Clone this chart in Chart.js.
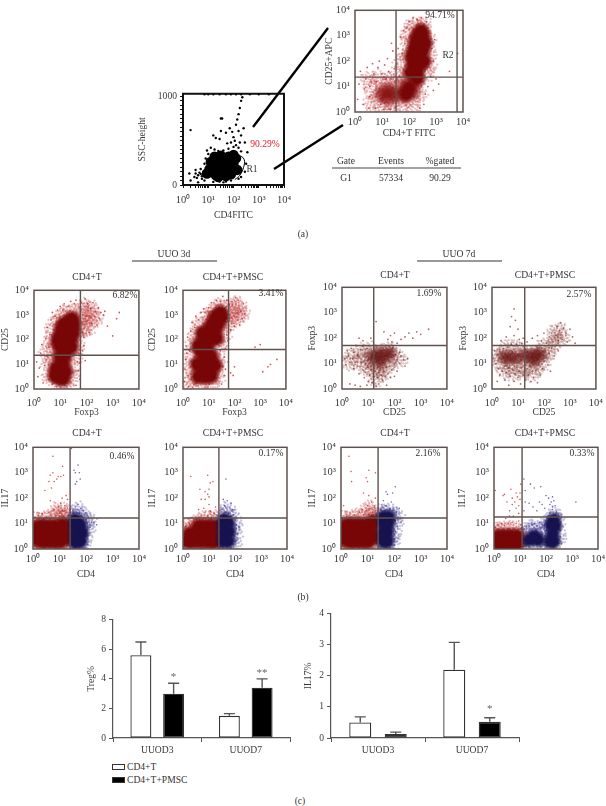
<!DOCTYPE html>
<html>
<head>
<meta charset="utf-8">
<title>Flow cytometry and Treg / IL17 percentages</title>
<script src="https://cdn.jsdelivr.net/npm/chart.js@4"></script>
<style>
  html, body { margin: 0; background: #fff; overflow: hidden; }
  #page { position: relative; width: 606px; height: 806px; font-family: "Liberation Serif", serif; color: #333; }
  #page canvas { position: absolute; }
  .txt { position: absolute; transform: translate(-50%, -50%); white-space: nowrap; font-size: 9.6px; line-height: 1; }
  .swatch { position: absolute; width: 11px; height: 4px; border: 1px solid #333; }
  svg { position: absolute; left: 0; top: 0; }
</style>
</head>
<body>
<div id="page">
<svg width="606" height="806" id="rules"></svg>
</div>
<script>
// flow panels: every point is [log10 x, log10 y]
const decadeLabels = ["10⁰", "10¹", "10²", "10³", "10⁴"];
const decadeTicks = [1, 10, 100, 1000, 10000];

// (a) SSC gate panel: [log10 x, SSC value]
const sscCore = [[0.95,130],[1.2,190],[1.4,240],[1.6,290],[1.8,320],[1.5,140],[1.8,170],[2.0,240],[1.3,110],[1.7,100],[1.1,260],[1.5,330],[2.0,340],[1.9,120],[1.65,200],[1.25,320],[2.15,170],[1.05,180],[1.4,90],[1.35,170],[1.75,250],[2.1,300]];
const sscDots = [[0.25,130],[0.3,50],[0.45,90],[0.5,170],[0.6,30],[0.7,180],[0.5,130],[0.6,110],[0.65,140],[0.75,100],[0.8,150],[0.7,125],[0.85,240],[0.9,300],[1.0,350],[0.95,390],[1.1,420],[1.25,400],[1.4,385],[1.6,390],[1.8,410],[2.0,430],[2.2,420],[2.3,380],[0.3,620],[1.5,750],[1.55,750],[1.2,560],[1.3,530],[1.45,520],[1.5,610],[1.7,590],[1.85,640],[1.95,600],[2.0,540],[2.1,680],[2.15,740],[2.2,800],[2.25,870],[2.3,950],[2.35,990],[2.2,610],[2.05,500],[2.3,560],[2.1,450],[1.9,480],[2.25,480],[2.4,640],[2.45,480],[1.75,470],[2.55,370],[2.5,240],[2.45,150],[1.6,30],[1.2,35],[1.7,40],[1.9,50],[1.45,40],[0.85,50],[2.2,70],[2.3,90],[0.55,80],[0.75,70],[0.85,1025],[1.0,1025],[1.2,1025],[1.45,1025],[1.7,1025],[1.9,1025],[2.1,1025],[2.3,1025],[2.65,1025],[3.0,1025],[3.4,1025]];
const sscGate = [[1.9,345],[2.2,335],[2.42,290],[2.4,200],[2.25,110],[2.05,60]];

// (a) gated panel, 94.71%
const gatedCore = [[2.3,1.6],[2.4,1.9],[2.3,2.2],[2.5,2.4],[2.2,2.5],[2.4,2.7],[2.5,3.0],[2.35,3.0],[2.15,1.9],[2.55,2.0],[2.1,2.2],[2.45,3.2],[2.05,1.55],[2.6,2.7],[2.35,2.45],[2.25,2.8],[2.3,1.3],[2.0,0.95],[1.9,0.7]];
const gatedLow = [[1.0,0.7],[1.2,0.55],[1.4,0.75],[1.2,0.85],[1.65,0.65],[2.15,0.8],[1.85,1.05]];
const gatedMid = [[1.1,0.7],[1.3,0.6],[1.0,0.85],[1.5,0.7],[1.7,0.55],[2.2,0.9],[2.1,0.5],[1.6,1.0],[0.8,0.6],[1.2,0.4],[1.4,0.95],[2.3,1.2],[1.85,1.3],[2.65,1.5],[2.75,2.3],[2.72,2.9],[2.25,3.4],[2.55,3.45],[1.95,2.7],[1.9,2.2],[2.75,1.8],[1.05,1.1],[0.6,0.9],[2.4,0.7],[1.75,0.2],[2.15,0.2],[0.6,0.35],[0.85,1.35],[1.3,1.25],[1.55,1.5],[0.5,1.3],[1.7,1.95],[1.95,3.05],[2.1,3.35],[1.35,0.2],[1.0,0.2]];
const gatedDots = [[0.1,0.5],[0.15,1.1],[0.2,1.6],[0.3,0.3],[0.35,0.9],[0.4,1.3],[0.45,1.75],[0.5,0.15],[0.55,0.6],[0.6,1.2],[0.65,1.9],[0.7,1.5],[0.75,0.15],[0.8,1.2],[0.85,1.75],[0.9,2.0],[1.0,1.5],[1.05,0.1],[1.1,1.85],[1.15,1.3],[1.2,2.1],[1.25,1.6],[1.3,0.1],[1.35,1.3],[1.4,2.4],[1.45,1.7],[1.5,0.2],[1.55,1.9],[1.6,2.5],[1.65,1.4],[1.7,2.95],[1.75,2.3],[1.8,3.2],[1.85,2.7],[1.9,3.3],[2.0,3.55],[2.05,3.0],[2.15,3.7],[2.3,3.65],[2.45,3.7],[2.65,3.55],[2.8,3.1],[2.85,2.5],[2.9,2.0],[2.8,1.4],[2.7,1.0],[2.6,0.7],[2.55,0.3],[2.4,0.15],[2.9,0.85],[3.0,1.3],[3.1,1.1],[3.5,1.6],[3.8,2.3],[2.95,2.85],[1.35,2.7],[0.95,0.3],[0.55,1.0]];

// (b) UUO 3d CD25 / Foxp3, 6.82%
const p1Core = [[1.2,1.75],[1.25,2.1],[1.3,2.4],[1.35,2.7],[1.45,2.85],[1.0,2.15],[1.05,2.45],[1.5,2.3],[1.5,2.6],[1.0,1.7],[1.0,0.8],[0.95,0.5],[1.1,1.05],[1.2,0.7],[0.85,0.85],[1.2,1.4],[1.0,1.3],[1.42,1.7],[0.9,1.95],[1.15,2.65],[1.4,2.05],[0.8,0.55],[1.1,0.4]];
const p1Mid = [[0.75,1.6],[0.65,2.0],[0.7,2.4],[0.85,2.7],[1.05,2.95],[1.25,3.1],[1.5,3.15],[1.72,2.85],[1.72,2.3],[1.65,1.7],[1.55,1.3],[1.45,0.9],[1.45,0.5],[1.25,0.25],[0.95,0.2],[0.6,0.5],[0.55,1.0],[0.7,1.25],[1.9,2.85],[1.95,3.1],[2.1,2.7],[2.2,3.05],[2.05,2.45],[1.9,3.35],[2.35,2.85],[1.9,2.45],[2.15,3.3],[0.5,1.5]];
const p1Dots = [[0.1,1.1],[0.15,0.5],[0.2,0.85],[0.25,1.45],[0.3,1.8],[0.35,0.25],[0.4,0.95],[0.45,2.05],[0.5,1.35],[0.5,2.5],[0.55,0.4],[0.55,1.7],[0.6,2.2],[0.65,2.8],[0.7,0.2],[0.7,3.1],[0.8,2.95],[0.85,0.1],[0.9,3.2],[1.0,3.35],[1.1,3.2],[1.15,3.45],[1.3,3.35],[1.4,3.55],[1.55,3.45],[1.6,3.6],[1.75,3.3],[1.8,3.5],[1.85,2.3],[1.9,2.1],[1.95,3.65],[2.0,2.95],[2.05,3.45],[2.1,2.3],[2.15,3.25],[2.2,2.65],[2.25,3.5],[2.3,2.95],[2.35,3.15],[2.4,2.6],[2.45,3.3],[2.5,2.85],[2.55,3.1],[2.65,3.0],[2.7,3.15],[2.8,2.55],[3.0,2.15],[3.15,2.85],[3.25,3.1],[1.65,1.1],[1.7,0.75],[1.75,0.4],[1.7,1.45],[1.85,1.55],[1.9,1.75],[1.95,1.15],[1.75,1.05],[1.6,0.15]];

// UUO 3d, 3.41%
const p2Core = [[0.9,0.5],[0.75,0.8],[1.0,0.9],[0.85,1.2],[1.1,1.3],[0.7,1.5],[0.95,1.6],[0.8,1.9],[1.05,2.0],[0.95,2.3],[1.2,2.3],[1.1,2.6],[1.35,2.6],[1.25,2.9],[1.5,2.9],[1.45,3.1],[0.6,0.5],[1.1,0.55],[0.55,1.0],[1.25,0.95],[1.3,2.05],[0.75,2.25],[0.6,1.75]];
const p2Mid = [[0.35,0.4],[0.3,0.9],[0.35,1.35],[0.4,1.8],[0.5,2.25],[0.65,2.6],[0.95,2.9],[1.15,3.15],[1.4,3.35],[1.65,3.3],[1.7,2.6],[1.6,2.2],[1.4,1.7],[1.35,1.2],[1.35,0.5],[1.1,0.2],[0.7,0.15],[0.3,0.2],[1.85,3.0],[1.95,3.2],[2.1,2.9],[2.2,3.3],[2.05,3.45],[1.9,2.75],[2.3,3.05],[1.05,2.85]];
const p2Dots = [[0.05,0.3],[0.08,0.8],[0.1,1.2],[0.12,1.75],[0.18,2.1],[0.22,0.1],[0.25,1.55],[0.3,2.35],[0.35,2.7],[0.45,2.5],[0.5,2.95],[0.6,2.8],[0.7,3.1],[0.8,3.25],[1.0,3.3],[1.1,3.5],[1.3,3.6],[1.45,3.55],[1.55,3.75],[1.7,3.6],[1.8,3.4],[1.9,3.55],[2.05,3.7],[2.15,3.6],[2.25,3.15],[2.3,2.85],[2.35,3.45],[2.4,3.05],[2.2,2.6],[2.0,2.55],[1.85,2.4],[1.75,1.95],[1.7,2.2],[1.65,1.65],[1.6,1.3],[1.55,0.9],[1.6,0.55],[1.5,0.2],[1.65,0.8],[1.75,1.1],[1.85,0.65],[1.95,0.55],[2.0,0.9],[2.8,1.7],[3.0,1.8],[3.1,0.7],[3.4,1.0],[3.65,1.2],[3.3,0.9],[1.45,1.55],[0.2,0.55],[0.15,1.45]];

// UUO 7d Foxp3 / CD25, 1.69%
const p3Core = [[1.4,1.3],[1.6,1.4],[1.25,1.2],[1.55,1.15],[1.75,1.35],[1.1,1.3],[1.35,1.45],[1.85,1.45],[1.45,1.05]];
const p3Mid = [[0.4,1.3],[0.6,1.05],[0.7,1.5],[0.85,1.25],[0.95,0.85],[1.05,1.55],[1.15,0.7],[1.25,1.0],[1.4,0.75],[1.55,0.6],[1.7,0.85],[1.85,1.05],[2.0,1.3],[2.2,1.15],[0.25,1.05],[1.3,0.4],[1.75,1.55],[1.0,1.1]];
const p3Dots = [[0.1,1.2],[0.15,0.95],[0.2,1.5],[0.25,1.3],[0.3,1.05],[0.35,1.6],[0.4,1.2],[0.45,0.8],[0.45,1.45],[0.5,1.05],[0.55,1.7],[0.6,1.3],[0.6,0.9],[0.65,0.6],[0.7,1.55],[0.75,1.05],[0.8,0.75],[0.8,1.7],[0.85,0.45],[0.9,1.0],[0.9,0.65],[0.95,1.6],[1.0,0.85],[1.0,0.3],[1.05,1.7],[1.05,0.55],[1.1,0.75],[1.15,0.25],[1.2,0.9],[1.2,0.5],[1.25,0.7],[1.3,0.1],[1.3,1.7],[1.35,0.85],[1.35,0.45],[1.4,0.65],[1.4,0.2],[1.45,0.8],[1.5,0.55],[1.5,1.65],[1.55,0.85],[1.55,0.35],[1.6,0.7],[1.6,1.7],[1.65,0.5],[1.7,0.85],[1.7,0.15],[1.75,0.6],[1.8,0.9],[1.8,1.7],[1.85,0.45],[1.9,0.75],[1.95,1.65],[2.0,0.95],[2.0,0.5],[2.05,1.35],[2.1,1.15],[2.1,0.7],[2.2,1.45],[2.2,1.0],[2.25,1.3],[2.35,1.15],[2.4,0.9],[2.5,1.2],[0.3,0.2],[0.5,0.15],[0.7,0.1],[0.95,0.15],[0.65,2.0],[0.8,1.9],[1.1,2.0],[1.3,2.65],[1.75,1.95],[1.85,2.1],[2.0,2.2],[2.1,1.8],[2.25,1.95],[2.4,2.05],[2.55,2.2],[2.7,2.0],[2.85,2.25],[3.0,2.15],[3.3,2.35],[1.6,2.25],[1.9,1.85]];

// UUO 7d, 2.57%
const p4Core = [[0.55,1.25],[0.8,1.3],[1.0,1.2],[0.7,1.15],[0.4,1.3],[1.35,1.3],[1.55,1.4],[1.7,1.3],[1.5,1.15],[1.8,1.45],[1.2,1.35],[1.9,1.3],[1.65,1.1]];
const p4Mid = [[0.2,1.3],[0.35,0.95],[0.5,0.7],[0.7,0.9],[0.85,0.6],[1.0,0.85],[1.1,1.5],[1.2,0.7],[1.4,0.85],[1.55,0.6],[1.75,0.85],[2.0,1.05],[2.15,1.4],[2.3,1.7],[2.45,1.9],[2.4,2.2],[2.6,2.3],[2.7,2.0],[0.55,1.6],[0.8,1.65],[2.0,1.7]];
const p4Dots = [[0.05,1.2],[0.1,1.5],[0.15,1.0],[0.2,1.35],[0.25,0.8],[0.3,1.55],[0.3,0.55],[0.35,1.05],[0.4,0.7],[0.45,1.6],[0.5,0.9],[0.5,0.35],[0.55,0.65],[0.6,1.65],[0.65,0.85],[0.65,0.15],[0.7,0.5],[0.75,1.75],[0.8,0.75],[0.85,0.3],[0.9,0.6],[0.95,1.75],[0.95,0.85],[1.0,0.45],[1.05,0.7],[1.1,0.2],[1.15,0.85],[1.2,0.55],[1.25,0.95],[1.3,0.35],[1.35,0.8],[1.4,0.55],[1.45,0.9],[1.5,0.3],[1.55,0.7],[1.6,0.45],[1.7,0.75],[1.75,0.25],[1.8,0.95],[1.85,0.55],[1.95,0.8],[2.0,1.1],[2.05,1.5],[2.1,1.25],[2.2,1.4],[2.3,1.6],[2.4,1.3],[2.45,1.7],[2.55,1.5],[2.1,1.8],[2.2,2.05],[2.3,2.2],[2.35,1.85],[2.45,2.1],[2.5,2.45],[2.55,1.9],[2.6,2.3],[2.65,2.6],[2.7,1.95],[2.75,2.4],[2.85,2.2],[2.9,1.85],[3.0,2.35],[3.1,2.05],[3.2,1.8],[2.0,2.2],[1.9,1.9],[1.75,2.1],[1.55,2.0],[1.35,1.85],[1.2,2.0],[1.05,1.95],[0.85,2.1],[0.7,2.45],[0.75,2.85],[0.85,3.15],[0.9,2.7],[1.0,2.35],[1.15,1.8],[0.55,2.05],[0.35,1.9],[0.2,0.3],[2.25,0.7],[2.15,0.95]];

// UUO 3d IL17 / CD4, 0.46%
const p5Red = [[0.05,0.4],[0.05,0.8],[0.3,0.3],[0.55,0.3],[0.8,0.3],[1.05,0.3],[0.25,0.65],[0.5,0.65],[0.8,0.65],[1.1,0.65],[0.25,0.9],[0.5,0.9],[0.8,0.9],[1.1,0.95],[1.27,0.45],[1.27,0.85]];
const p5RedMid = [[0.15,1.15],[0.4,1.2],[0.65,1.25],[0.9,1.3],[1.1,1.35],[1.3,1.25],[0.2,0.08],[0.5,0.06],[0.8,0.05],[1.1,0.08],[1.3,0.15],[1.2,1.5],[0.95,1.55]];
const p5RedDots = [[0.05,1.25],[0.2,1.3],[0.35,1.4],[0.5,1.25],[0.6,1.45],[0.7,1.3],[0.8,1.55],[0.85,1.3],[0.95,1.65],[1.0,1.4],[1.05,1.8],[1.1,1.5],[1.15,1.3],[1.2,1.7],[1.25,1.45],[1.3,1.6],[1.35,1.35],[1.3,1.95],[0.65,1.9],[1.1,2.0],[0.45,2.3],[0.7,2.4],[0.75,3.65],[1.12,3.25],[0.6,2.65],[0.65,2.9],[0.8,2.65],[0.9,2.75],[1.05,2.85],[1.15,2.9],[0.75,3.0],[0.95,2.85],[1.25,2.1]];
const p5Blue = [[1.6,0.25],[1.8,0.3],[1.6,0.6],[1.75,0.6],[1.6,0.95],[1.78,0.95],[1.6,1.15],[1.85,0.65]];
const p5BlueMid = [[1.55,1.3],[1.8,1.3],[2.0,1.1],[2.05,0.75],[1.95,0.35],[1.65,0.08],[1.7,1.55],[2.1,1.15]];
const p5BlueDots = [[1.45,1.3],[1.5,1.5],[1.55,1.35],[1.6,1.65],[1.65,1.45],[1.7,1.75],[1.75,1.4],[1.8,1.6],[1.85,1.3],[1.9,1.5],[1.95,1.35],[2.0,1.15],[2.0,0.7],[2.05,1.0],[2.1,1.25],[2.15,0.85],[2.2,1.05],[2.3,1.05],[2.4,0.95],[1.98,0.3],[1.6,2.55],[1.65,2.65],[1.55,3.1],[1.7,3.3],[1.75,3.0],[1.6,3.0],[1.45,3.95],[1.78,2.75]];

// UUO 3d, 0.17%
const p6Red = [[0.4,0.3],[0.7,0.3],[1.0,0.3],[0.25,0.6],[0.55,0.6],[0.85,0.6],[1.15,0.55],[0.6,0.9],[0.9,0.9],[1.2,0.9],[1.25,0.3],[0.15,0.3]];
const p6RedMid = [[0.1,0.8],[0.3,0.95],[0.5,1.05],[0.75,1.15],[1.0,1.2],[1.25,1.25],[1.25,0.1],[0.9,0.08],[0.5,0.08]];
const p6RedDots = [[0.1,0.9],[0.15,0.1],[0.25,1.0],[0.3,0.2],[0.4,1.05],[0.5,1.15],[0.6,1.2],[0.7,1.3],[0.8,1.25],[0.85,1.45],[0.95,1.3],[1.05,1.5],[1.1,1.25],[1.2,1.4],[1.25,1.65],[1.35,1.3],[1.3,0.15],[0.55,0.1],[0.9,0.08],[0.6,1.55],[0.8,1.6],[1.0,1.75],[0.7,1.95],[0.85,1.95],[0.95,2.15],[1.0,2.05],[0.85,2.25],[1.0,2.35],[0.65,2.35],[0.3,2.85],[0.95,2.9],[1.05,2.6],[1.15,2.65]];
const p6Blue = [[1.55,0.3],[1.75,0.3],[1.55,0.65],[1.78,0.65],[1.55,1.0],[1.75,1.0],[1.6,1.15]];
const p6BlueMid = [[1.6,1.35],[1.85,1.3],[2.0,1.0],[2.0,0.6],[1.95,0.2],[1.7,1.55],[1.55,0.08]];
const p6BlueDots = [[1.45,1.3],[1.5,1.55],[1.55,1.35],[1.6,1.7],[1.65,1.45],[1.7,1.9],[1.75,1.4],[1.8,1.65],[1.85,1.3],[1.9,1.55],[1.95,1.35],[2.0,1.2],[2.05,0.95],[2.1,0.6],[2.15,0.85],[2.0,0.3],[1.65,2.75],[1.55,1.95],[1.85,1.8]];

// UUO 7d, 2.16%
const p7Red = [[0.05,0.4],[0.05,0.85],[0.3,0.3],[0.55,0.3],[0.8,0.3],[1.05,0.3],[0.25,0.65],[0.5,0.65],[0.8,0.65],[1.1,0.65],[0.25,0.95],[0.5,0.95],[0.8,0.95],[1.1,1.0],[1.27,0.5],[1.27,1.05]];
const p7RedMid = [[0.15,1.2],[0.4,1.25],[0.65,1.3],[0.9,1.35],[1.15,1.4],[1.3,1.35],[0.25,0.08],[0.55,0.06],[0.85,0.05],[1.15,0.08],[1.05,1.6]];
const p7RedDots = [[0.05,1.25],[0.2,1.3],[0.35,1.25],[0.5,1.35],[0.6,1.25],[0.7,1.45],[0.85,1.35],[0.95,1.5],[1.05,1.35],[1.1,1.6],[1.2,1.45],[1.25,1.7],[1.3,1.5],[1.35,1.35],[1.0,1.7],[0.8,1.55],[1.15,1.85],[1.05,2.1],[0.85,2.2],[1.3,2.0],[0.1,1.7],[0.3,3.65],[0.4,2.65],[0.38,3.05],[1.05,3.1],[1.3,3.0],[1.0,2.65],[0.95,2.8]];
const p7Blue = [[1.6,0.3],[1.75,0.3],[1.6,0.65],[1.75,0.65],[1.6,1.0],[1.78,1.0],[1.6,1.25],[1.8,1.25]];
const p7BlueMid = [[1.55,1.45],[1.75,1.5],[1.95,1.35],[2.05,1.0],[2.0,0.6],[1.95,0.25],[1.65,0.08],[2.1,1.3]];
const p7BlueDots = [[1.45,1.4],[1.5,1.55],[1.55,1.65],[1.65,1.5],[1.7,1.7],[1.8,1.45],[1.85,1.6],[1.9,1.3],[1.95,1.5],[2.0,1.35],[2.05,1.1],[2.1,1.45],[2.15,1.25],[2.2,1.6],[2.05,0.7],[2.0,0.4],[2.12,0.9],[1.7,2.25],[1.75,2.15],[1.95,2.2],[2.05,2.45],[1.9,1.85],[1.6,1.9],[2.0,0.15]];

// UUO 7d, 0.33%
const p8Red = [[0.15,0.22],[0.4,0.2],[0.65,0.2],[0.9,0.2],[0.15,0.5],[0.4,0.5],[0.65,0.5],[0.9,0.5]];
const p8RedMid = [[0.1,0.75],[0.35,0.8],[0.6,0.8],[0.85,0.75],[1.0,0.4]];
const p8RedDots = [[0.05,0.85],[0.15,0.95],[0.3,1.0],[0.4,0.92],[0.55,1.0],[0.7,1.05],[0.85,1.0],[0.95,1.1],[1.03,0.95],[0.45,1.2],[0.75,1.3],[0.95,1.4],[0.6,1.5],[0.85,1.6],[0.7,1.75],[0.8,1.85],[0.95,1.7],[1.0,1.95],[0.7,2.0],[0.9,2.05],[0.35,2.1],[0.5,1.85],[0.85,2.2],[0.4,2.15],[1.0,2.2],[0.05,2.3],[0.65,2.35],[1.03,2.55],[0.6,1.3]];
const p8Blue = [[1.35,0.35],[1.55,0.5],[1.7,0.35],[2.15,0.3],[2.25,0.6],[2.3,0.3],[2.2,0.95],[2.35,0.9],[2.3,1.15]];
const p8BlueMid = [[1.2,0.2],[1.2,0.6],[1.35,0.8],[1.55,0.85],[1.75,0.75],[1.9,0.4],[1.95,0.7],[2.1,0.15],[2.5,0.5],[2.45,1.1],[2.3,1.35],[2.05,1.0]];
const p8BlueDots = [[1.1,0.1],[1.12,0.5],[1.15,0.8],[1.2,0.2],[1.25,0.9],[1.35,1.0],[1.45,0.95],[1.55,1.0],[1.65,0.9],[1.75,1.05],[1.85,0.85],[1.95,0.95],[2.0,0.6],[2.05,1.1],[2.1,1.3],[2.15,1.4],[2.25,1.55],[2.4,1.45],[2.5,1.3],[2.5,0.9],[2.55,0.5],[2.6,0.2],[2.45,0.15],[1.15,1.5],[1.2,1.85],[1.2,2.3],[1.15,2.75],[1.4,2.55],[1.55,2.4],[1.8,2.45],[1.35,1.8],[1.5,1.65],[1.65,1.5],[1.75,1.85],[1.85,1.75],[1.95,1.6],[2.1,2.0],[2.15,1.75],[2.2,1.85],[2.25,2.05],[2.3,1.9],[2.35,1.7],[2.25,1.65],[3.15,1.85],[2.0,2.1]];

// (c) bars
const barCategories = ["UUOD3", "UUOD7"];
const seriesNames = ["CD4+T", "CD4+T+PMSC"];
const tregOpen = [5.6, 1.5];
const tregOpenTop = [6.5, 1.65];
const tregBlack = [3.0, 3.4];
const tregBlackTop = [3.7, 4.0];
const tregStars = ["*", "**"];
const tregStarAt = [4.1, 4.4];
const il17Open = [0.5, 2.2];
const il17OpenTop = [0.68, 3.08];
const il17Black = [0.13, 0.52];
const il17BlackTop = [0.19, 0.65];
const il17Stars = ["", "*"];
const il17StarAt = [0, 0.94];

const page = document.getElementById("page");
const FONT = "Liberation Serif";
const INK = "#3a3a3a";

// marker sprites: a soft blob for dense regions, a speckle for the cloud edge
const speckOffsets = [[0,0],[2,-1],[-2,1],[1,3],[-1,-3],[3,2],[-3,-1],[4,-2],[-4,2],[2,-4],[-2,4],[5,1],[-5,-1],[1,-5],[-1,5],[4,4],[-4,-4],[5,-3],[-5,3],[3,-6],[-3,6],[7,0],[-7,1],[0,7],[1,-7],[6,4],[-6,-4],[6,-5],[-5,6],[8,-2],[-8,2],[3,8],[-2,-8]];

function softSprite(rgb, radius, alpha) {
  const c = document.createElement("canvas");
  c.width = c.height = radius * 2;
  const g = c.getContext("2d");
  const grad = g.createRadialGradient(radius, radius, 0, radius, radius, radius);
  grad.addColorStop(0, "rgba(" + rgb + "," + alpha + ")");
  grad.addColorStop(0.45, "rgba(" + rgb + "," + alpha + ")");
  grad.addColorStop(1, "rgba(" + rgb + ",0)");
  g.fillStyle = grad;
  g.fillRect(0, 0, radius * 2, radius * 2);
  return c;
}

function speckSprite(color) {
  const c = document.createElement("canvas");
  c.width = c.height = 20;
  const g = c.getContext("2d");
  g.fillStyle = color;
  speckOffsets.forEach(o => {
    g.beginPath();
    g.arc(10 + o[0], 10 + o[1], 0.7, 0, Math.PI * 2);
    g.fill();
  });
  return c;
}

const redSoft = softSprite("120,6,6", 10, 1);
const redLow = softSprite("135,15,15", 10, 0.6);
const blueSoft = softSprite("22,18,80", 9, 1);
const brownSoft = softSprite("105,20,20", 7, 0.5);
const redSpeck = speckSprite("rgba(185,40,40,.8)");
const blueSpeck = speckSprite("rgba(60,50,140,.8)");
const brownSpeck = speckSprite("rgba(125,45,40,.75)");
const RED_DOT = "rgba(205,60,60,.85)";
const BLUE_DOT = "rgba(75,65,150,.8)";
const BROWN_DOT = "rgba(140,60,55,.75)";

function text(str, x, y, extra) {
  const d = document.createElement("div");
  d.className = "txt";
  d.textContent = str;
  d.style.left = x + "px";
  d.style.top = y + "px";
  if (extra) Object.assign(d.style, extra);
  page.appendChild(d);
}

function rule(x1, y1, x2, y2, w, color) {
  const l = document.createElementNS("http://www.w3.org/2000/svg", "line");
  l.setAttribute("x1", x1); l.setAttribute("y1", y1);
  l.setAttribute("x2", x2); l.setAttribute("y2", y2);
  l.setAttribute("stroke", color || "#000");
  l.setAttribute("stroke-width", w);
  document.getElementById("rules").appendChild(l);
}

function addCanvas(left, top, w, h) {
  const c = document.createElement("canvas");
  c.width = w; c.height = h;
  c.style.left = left + "px"; c.style.top = top + "px";
  c.style.width = w + "px"; c.style.height = h + "px";
  page.appendChild(c);
  return c.getContext("2d");
}

const framePlugin = {
  id: "frame",
  afterDatasetsDraw(chart, args, opts) {
    const a = chart.chartArea, ctx = chart.ctx;
    ctx.save();
    ctx.strokeStyle = opts.color;
    ctx.lineWidth = opts.width;
    ctx.strokeRect(a.left, a.top, a.right - a.left, a.bottom - a.top);
    ctx.restore();
  }
};

const logPoint = p => ({ x: Math.pow(10, p[0]), y: Math.pow(10, p[1]) });

function dots(list, radius, color, toPoint) {
  return {
    data: list.map(toPoint || logPoint),
    showLine: false,
    pointRadius: radius,
    pointBorderWidth: 0,
    pointBackgroundColor: color,
    pointHoverRadius: radius
  };
}

function stamps(list, sprite) {
  return {
    data: list.map(logPoint),
    showLine: false,
    pointRadius: 6,
    pointBorderWidth: 0,
    pointStyle: sprite,
    pointRotation: c => c.dataIndex * 67
  };
}

function line(points, color, width) {
  return { data: points, showLine: true, pointRadius: 0, borderColor: color, borderWidth: width };
}

function flowPanel(c) {
  const padTop = 8, padRight = 14;
  const yw = c.left - c.yTitleX + 6;
  const xh = c.xTitleY + 6 - c.bottom;
  const w = yw + (c.right - c.left) + padRight;
  const h = padTop + (c.bottom - c.top) + xh;
  const ctx = addCanvas(c.yTitleX - 6, c.top - padTop, w, h);
  const gates = [];
  (c.gateX || []).forEach(g => gates.push(line([logPoint([g, 0]), logPoint([g, 4])], "#5f514d", 1.4)));
  gates.push(line([logPoint([0, c.gateY]), logPoint([4, c.gateY])], "#5f514d", 1.4));

  const axis = (title, fit, pad) => ({
    type: "logarithmic", min: 1, max: 10000,
    afterBuildTicks: s => { s.ticks = decadeTicks.map(v => ({ value: v })); },
    afterFit: fit,
    grid: { display: false, drawTicks: false },
    border: { display: false },
    title: { display: true, text: title, color: INK, padding: 0, font: { family: FONT, size: 9.6 } },
    ticks: {
      autoSkip: false, maxRotation: 0, color: INK, padding: pad,
      font: { family: FONT, size: 10.5 },
      callback: v => decadeLabels[decadeTicks.indexOf(v)]
    }
  });

  new Chart(ctx, {
    type: "scatter",
    data: { datasets: gates.concat(c.sets) },
    options: {
      responsive: false, animation: false,
      layout: { padding: { top: padTop, right: padRight, left: 0, bottom: 0 } },
      plugins: { legend: { display: false }, tooltip: { enabled: false }, frame: { color: "#5f514d", width: 1.5 } },
      scales: {
        x: axis(c.xTitle, s => { s.height = xh; }, c.xPad),
        y: axis(c.yTitle, s => { s.width = yw; }, 5)
      }
    },
    plugins: [framePlugin]
  });
  text(c.pct, c.pctX, c.pctY);
  if (c.head) text(c.head, c.headX, c.headY);
}

// SSC panel has a linear y axis and fine tick marks
(function sscPanel() {
  const left = 183, right = 284, top = 91, bottom = 185;
  const yw = left - 137, xh = 221 - bottom, padTop = 6, padRight = 14;
  const ctx = addCanvas(137, top - padTop, yw + right - left + padRight, padTop + bottom - top + xh);
  const toPoint = p => ({ x: Math.pow(10, p[0]), y: p[1] });
  const xMarks = [];
  decadeTicks.slice(0, 4).forEach(d => [1,2,3,4,5,6,7,8,9].forEach(m => xMarks.push(d * m)));
  xMarks.push(10000);
  const yMarks = [];
  for (let v = 0; v <= 1000; v += 50) yMarks.push(v);
  new Chart(ctx, {
    type: "scatter",
    data: { datasets: [
      Object.assign(line(sscGate.map(toPoint), "#000", 1), { tension: 0.4 }),
      dots(sscCore, 5.2, "#000", toPoint),
      dots(sscDots, 1.2, "#000", toPoint)
    ] },
    options: {
      responsive: false, animation: false,
      layout: { padding: { top: padTop, right: padRight, left: 0, bottom: 0 } },
      plugins: { legend: { display: false }, tooltip: { enabled: false }, frame: { color: "#111", width: 2 } },
      scales: {
        x: {
          type: "logarithmic", min: 1, max: 10000,
          afterBuildTicks: s => { s.ticks = xMarks.map(v => ({ value: v })); },
          afterFit: s => { s.height = xh; },
          grid: { drawOnChartArea: false, tickLength: 3, color: "#111" },
          border: { display: false },
          title: { display: true, text: "CD4FITC", color: INK, padding: 0, font: { family: FONT, size: 9.6 } },
          ticks: { autoSkip: false, maxRotation: 0, color: INK, padding: 6, font: { family: FONT, size: 10.5 },
            callback: v => { const i = decadeTicks.indexOf(v); return i < 0 ? "" : decadeLabels[i]; } }
        },
        y: {
          min: 0, max: 1030,
          afterBuildTicks: s => { s.ticks = yMarks.map(v => ({ value: v })); },
          afterFit: s => { s.width = yw; },
          grid: { drawOnChartArea: false, tickLength: 3, color: "#111" },
          border: { display: false },
          title: { display: true, text: "SSC-height", color: INK, padding: 0, font: { family: FONT, size: 9.6 } },
          ticks: { autoSkip: false, color: INK, padding: 3, font: { family: FONT, size: 9.6 },
            callback: v => (v === 0 || v === 1000 ? String(v) : "") }
        }
      }
    },
    plugins: [framePlugin]
  });
  text("90.29%", 265, 144, { color: "#e0202a" });
  text("R1", 252, 169);
})();

// dense clouds carry the speckle under the core as well, so the core edge breaks up
function denseSets(core, mid, list, soft, speck, dotColor) {
  return [stamps(core, soft), stamps(core.concat(mid), speck), dots(list, 0.9, dotColor)];
}

flowPanel({
  left: 355, right: 463, top: 7, bottom: 112, yTitleX: 330, xTitleY: 133, xPad: 4,
  xTitle: "CD4+T FITC", yTitle: "CD25+APC", gateX: [1.52, 3.78], gateY: 1.37,
  pct: "94.71%", pctX: 440, pctY: 15,
  sets: [stamps(gatedCore, redSoft), stamps(gatedLow, redLow), stamps(gatedCore.concat(gatedMid), redSpeck), dots(gatedDots, 0.9, RED_DOT)]
});
text("R2", 448, 55);

const rowOne = { top: 287, bottom: 389, xTitleY: 412, xPad: 8, xTitle: "Foxp3", headY: 277 };
flowPanel(Object.assign({}, rowOne, {
  left: 34, right: 140, yTitleX: 6, yTitle: "CD25", gateX: [1.77], gateY: 1.37,
  pct: "6.82%", pctX: 125, pctY: 295, head: "CD4+T", headX: 87,
  sets: denseSets(p1Core, p1Mid, p1Dots, redSoft, redSpeck, RED_DOT)
}));
flowPanel(Object.assign({}, rowOne, {
  left: 183, right: 287, yTitleX: 153, yTitle: "CD25", gateX: [1.77], gateY: 1.6,
  pct: "3.41%", pctX: 271, pctY: 293, head: "CD4+T+PMSC", headX: 233,
  sets: denseSets(p2Core, p2Mid, p2Dots, redSoft, redSpeck, RED_DOT)
}));
const rowOneRight = { top: 284, bottom: 389, xTitleY: 412, xPad: 8, xTitle: "CD25", yTitle: "Foxp3", headY: 275 };
flowPanel(Object.assign({}, rowOneRight, {
  left: 342, right: 448, yTitleX: 313, gateX: [1.21], gateY: 1.71,
  pct: "1.69%", pctX: 429, pctY: 293, head: "CD4+T", headX: 395,
  sets: denseSets(p3Core, p3Mid, p3Dots, brownSoft, brownSpeck, BROWN_DOT)
}));
flowPanel(Object.assign({}, rowOneRight, {
  left: 492, right: 597, yTitleX: 464, gateX: [1.26], gateY: 1.71,
  pct: "2.57%", pctX: 579, pctY: 294, head: "CD4+T+PMSC", headX: 545,
  sets: denseSets(p4Core, p4Mid, p4Dots, brownSoft, brownSpeck, BROWN_DOT)
}));

const rowTwo = { top: 444, bottom: 549, xTitleY: 574, xPad: 4, xTitle: "CD4", yTitle: "IL17", headY: 433 };
function il17Sets(red, redMid, redDots, blue, blueMid, blueDots) {
  return [stamps(blue, blueSoft), stamps(red, redSoft), stamps(blue.concat(blueMid), blueSpeck), stamps(red.concat(redMid), redSpeck), dots(blueDots, 0.8, BLUE_DOT), dots(redDots, 0.8, RED_DOT)];
}
flowPanel(Object.assign({}, rowTwo, {
  left: 33, right: 139, yTitleX: 6, gateX: [1.4], gateY: 1.22,
  pct: "0.46%", pctX: 122, pctY: 456, head: "CD4+T", headX: 87,
  sets: il17Sets(p5Red, p5RedMid, p5RedDots, p5Blue, p5BlueMid, p5BlueDots)
}));
flowPanel(Object.assign({}, rowTwo, {
  left: 183, right: 287, yTitleX: 153, gateX: [1.38], gateY: 1.22,
  pct: "0.17%", pctX: 271, pctY: 453, head: "CD4+T+PMSC", headX: 233,
  sets: il17Sets(p6Red, p6RedMid, p6RedDots, p6Blue, p6BlueMid, p6BlueDots)
}));
flowPanel(Object.assign({}, rowTwo, {
  left: 341, right: 447, yTitleX: 313, gateX: [1.4], gateY: 1.22,
  pct: "2.16%", pctX: 428, pctY: 453, head: "CD4+T", headX: 395,
  sets: il17Sets(p7Red, p7RedMid, p7RedDots, p7Blue, p7BlueMid, p7BlueDots)
}));
flowPanel(Object.assign({}, rowTwo, {
  left: 494, right: 598, yTitleX: 463, gateX: [1.08], gateY: 1.26,
  pct: "0.33%", pctX: 582, pctY: 453, head: "CD4+T+PMSC", headX: 545,
  sets: il17Sets(p8Red, p8RedMid, p8RedDots, p8Blue, p8BlueMid, p8BlueDots)
}));

// error whiskers and significance stars sit on the bars' own scale
const whiskerPlugin = {
  id: "whiskers",
  afterDatasetsDraw(chart) {
    const ctx = chart.ctx, y = chart.scales.y;
    ctx.save();
    chart.data.datasets.forEach((ds, i) => {
      chart.getDatasetMeta(i).data.forEach((bar, j) => {
        const top = y.getPixelForValue(ds.whisker[j]);
        ctx.strokeStyle = "#555";
        ctx.lineWidth = 1.4;
        ctx.beginPath();
        ctx.moveTo(bar.x, bar.y);
        ctx.lineTo(bar.x, top);
        ctx.moveTo(bar.x - 5.5, top);
        ctx.lineTo(bar.x + 5.5, top);
        ctx.stroke();
        if (ds.stars && ds.stars[j]) {
          ctx.fillStyle = "#666";
          ctx.font = "11px " + FONT;
          ctx.textAlign = "center";
          ctx.textBaseline = "middle";
          ctx.fillText(ds.stars[j], bar.x, y.getPixelForValue(ds.starAt[j]));
        }
      });
    });
    ctx.restore();
  }
};

function barPanel(c) {
  const yw = c.left - c.yTitleX + 6, padTop = 8, xh = 758 - c.bottom;
  const ctx = addCanvas(c.yTitleX - 6, c.top - padTop, yw + c.right - c.left + 2, padTop + c.bottom - c.top + xh);
  const shared = { categoryPercentage: c.catPct, barPercentage: c.barPct, borderWidth: 1.3, borderColor: "#333", borderSkipped: false };
  const axisFont = { family: FONT, size: 9.6 };
  new Chart(ctx, {
    type: "bar",
    data: {
      labels: barCategories,
      datasets: [
        Object.assign({ label: seriesNames[0], data: c.open, whisker: c.openTop, backgroundColor: "#fff" }, shared),
        Object.assign({ label: seriesNames[1], data: c.black, whisker: c.blackTop, stars: c.stars, starAt: c.starAt, backgroundColor: "#000" }, shared)
      ]
    },
    options: {
      responsive: false, animation: false,
      layout: { padding: { top: padTop, right: 2, left: 0, bottom: 0 } },
      plugins: { legend: { display: false }, tooltip: { enabled: false } },
      scales: {
        x: {
          afterFit: s => { s.height = xh; },
          grid: { drawOnChartArea: false, tickLength: 4, color: "#555" },
          border: { color: "#555", width: 1.2 },
          ticks: { color: INK, padding: 3, font: axisFont }
        },
        y: {
          min: 0, max: c.max,
          afterFit: s => { s.width = yw; },
          grid: { drawOnChartArea: false, tickLength: 4, color: "#555" },
          border: { color: "#555", width: 1.2 },
          title: { display: true, text: c.title, color: INK, padding: 0, font: axisFont },
          ticks: { stepSize: c.step, color: INK, padding: 3, font: axisFont }
        }
      }
    },
    plugins: [whiskerPlugin]
  });
}

barPanel({ left: 113, right: 290, top: 619, bottom: 738, yTitleX: 92, max: 8, step: 2, title: "Treg%",
  catPct: 0.74, barPct: 0.64, open: tregOpen, openTop: tregOpenTop, black: tregBlack, blackTop: tregBlackTop, stars: tregStars, starAt: tregStarAt });
barPanel({ left: 331, right: 519, top: 613, bottom: 738, yTitleX: 309, max: 4, step: 1, title: "IL17%",
  catPct: 0.755, barPct: 0.62, open: il17Open, openTop: il17OpenTop, black: il17Black, blackTop: il17BlackTop, stars: il17Stars, starAt: il17StarAt });

// legend
seriesNames.forEach((name, i) => {
  const y = i === 0 ? 767 : 780;
  const s = document.createElement("div");
  s.className = "swatch";
  s.style.left = "112px";
  s.style.top = (y - 3) + "px";
  s.style.background = i === 0 ? "#fff" : "#000";
  page.appendChild(s);
  text(name, 127, y, { transform: "translate(0,-50%)" });
});

// free text and rules
rule(253, 127, 328, 28, 2.4);
rule(274, 169, 343, 125, 2.4);
rule(332, 168, 461, 168, 1, "#444");
text("Gate", 346, 161); text("Events", 391, 161); text("%gated", 440, 161);
text("G1", 346, 178); text("57334", 391, 178); text("90.29", 440, 178);
text("(a)", 303, 234);
text("UUO 3d", 174, 254);
rule(132, 261, 217, 261, 1, "#333");
text("UUO 7d", 459, 254);
rule(417, 261, 502, 261, 1, "#333");
text("(b)", 303, 597);
text("(c)", 300, 801);
</script>
</body>
</html>
